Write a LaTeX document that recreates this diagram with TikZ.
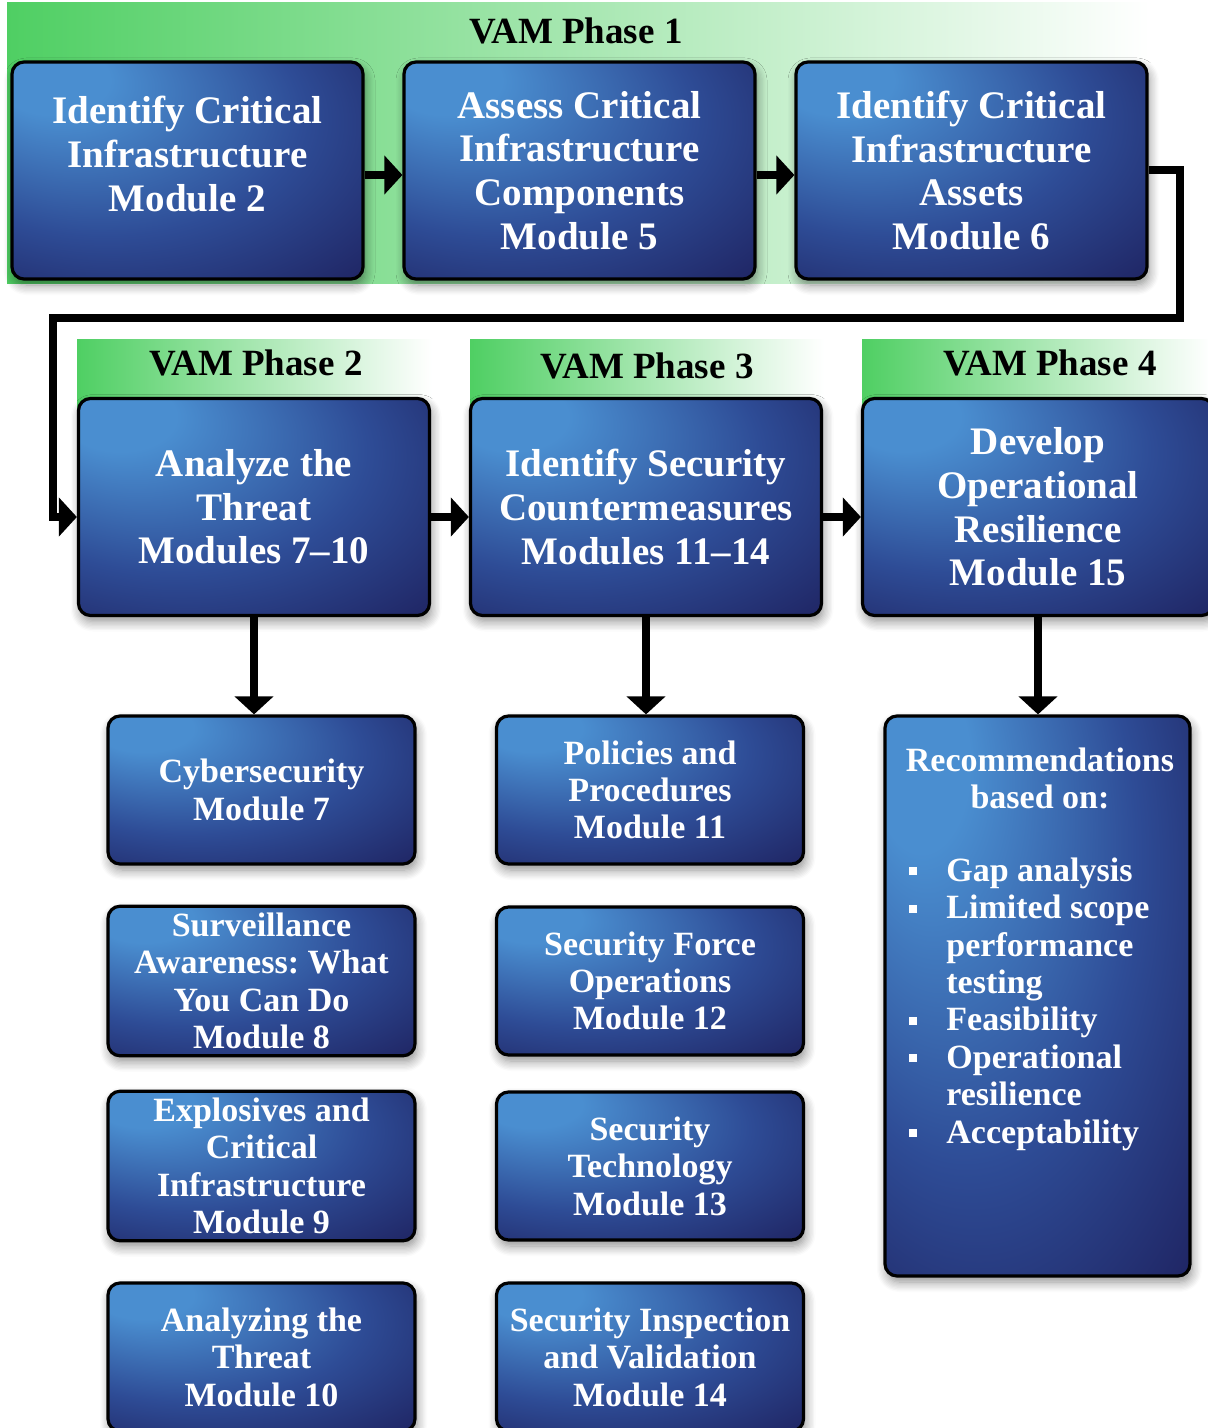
\documentclass[tikz,border=0pt]{standalone}
\usepackage{fontspec}
\setmainfont{Liberation Serif}
\usetikzlibrary{positioning,arrows.meta,shadows.blur}
\frenchspacing

\definecolor{boxlight}{HTML}{4A8ED0}
\definecolor{boxmid}{HTML}{2E4C96}
\definecolor{boxdark}{HTML}{1C1C58}
\definecolor{phgreen}{HTML}{4FCF63}

\pgfdeclareradialshading{modshade}{\pgfpoint{-22bp}{24bp}}{color(0bp)=(boxlight); color(8bp)=(boxlight); color(28bp)=(boxmid); color(48bp)=(boxdark); color(60bp)=(boxdark)}

\newcommand\bul{\makebox[18.5pt][l]{\rule[3pt]{4pt}{4pt}}}
\newcommand\ind{\hspace*{18.5pt}}

\tikzset{
  modbox/.style={draw=black, line width=1.6pt, rounded corners=6pt, shade, shading=modshade,
    text=white, align=center, inner xsep=2pt,
    blur shadow={shadow blur steps=8, shadow xshift=1pt, shadow yshift=-3pt, shadow blur radius=5pt, shadow opacity=45}},
  bigfont/.style={font=\fontsize{19.5}{21.8}\selectfont\bfseries},
  smallfont/.style={font=\fontsize{17}{18.7}\selectfont\bfseries},
  bigbox/.style={modbox, bigfont, minimum width=175.5pt, minimum height=108.5pt},
  smallbox/.style={modbox, smallfont, minimum width=153.5pt, minimum height=74pt},
  boxtext/.style={text=white, align=center, inner sep=0pt},
  phaselbl/.style={font=\fontsize{18.5}{20}\selectfont\bfseries, inner sep=0pt},
  band/.style={left color=phgreen, middle color=phgreen!55, right color=white},
  flow/.style={line width=4pt, -{Triangle[width=19pt,length=9pt]}},
}

\begin{document}
\begin{tikzpicture}[x=0.5pt,y=-0.5pt,on grid,node distance=196pt]
\useasboundingbox (0,0) rectangle (1207,1428);

% green phase bands
\fill[band] (7,3) rectangle (1150,284);
\fill[band] (77,340) rectangle (432,560);
\fill[band] (470,340) rectangle (824,560);
\fill[band] (862,340) rectangle (1210,560);
\node[phaselbl] (ph1) at (576,31) {VAM Phase 1};
\node[phaselbl] (ph2) at (256,363) {VAM Phase 2};
\node[phaselbl] (ph3) at (647,366) {VAM Phase 3};
\node[phaselbl] (ph4) at (1050,363) {VAM Phase 4};

% phase 1
\node[bigbox] (A) at (187.5,170.5) {};
\node[boxtext, bigfont] (Atext) at (187.5,154) {Identify Critical\\Infrastructure\\Module 2};
\node[bigbox, right=of A] (B) {Assess Critical\\Infrastructure\\Components\\Module 5};
\node[bigbox, right=of B] (C) {Identify Critical\\Infrastructure\\Assets\\Module 6};

% phases 2-4
\node[bigbox] (D) at (254,507) {Analyze the\\Threat\\Modules 7--10};
\node[bigbox, right=of D] (E) {Identify Security\\Countermeasures\\Modules 11--14};
\node[bigbox, right=of E] (F) {Develop\\Operational\\Resilience\\Module 15};

% modules
\node[smallbox] (G1) at (261.5,790) {Cybersecurity\\Module 7};
\node[smallbox] (G2) at (261.5,981) {Surveillance\\Awareness: What\\You Can Do\\Module 8};
\node[smallbox] (G3) at (261.5,1166) {Explosives and\\Critical\\Infrastructure\\Module 9};
\node[smallbox] (G4) at (261.5,1357) {Analyzing the\\Threat\\Module 10};

\node[smallbox] (H1) at (650,790) {Policies and\\Procedures\\Module 11};
\node[smallbox] (H2) at (650,981) {Security Force\\Operations\\Module 12};
\node[smallbox] (H3) at (650,1166) {Security\\Technology\\Module 13};
\node[smallbox] (H4) at (650,1357) {Security Inspection\\and Validation\\Module 14};

\node[modbox, minimum width=152.5pt, minimum height=280pt] (I) at (1037.5,996) {};
\node[boxtext, smallfont] (Ihead) at (1040,778.5) {Recommendations\\based on:};
\node[boxtext, smallfont, align=left, anchor=west] (Ilist) at (909,1004)
  {\bul Gap analysis\\\bul Limited scope\\\ind performance\\\ind testing\\\bul Feasibility\\\bul Operational\\\ind resilience\\\bul Acceptability};

% connectors
\coordinate (bend) at (53,318);
\draw[flow] ([yshift=-2.25pt]A.east) -- ([yshift=-2.25pt]B.west);
\draw[flow] ([yshift=-2.25pt]B.east) -- ([yshift=-2.25pt]C.west);
\draw[flow] (C.east) -- ++(31,0) |- (bend) |- ([yshift=-5pt]D.west);
\draw[flow] ([yshift=-5pt]D.east) -- ([yshift=-5pt]E.west);
\draw[flow] ([yshift=-5pt]E.east) -- ([yshift=-5pt]F.west);
\draw[flow] (D.south) -- (D.south |- G1.north);
\draw[flow] (E.south) -- (E.south |- H1.north);
\draw[flow] (F.south) -- (F.south |- I.north);
\end{tikzpicture}
\end{document}
